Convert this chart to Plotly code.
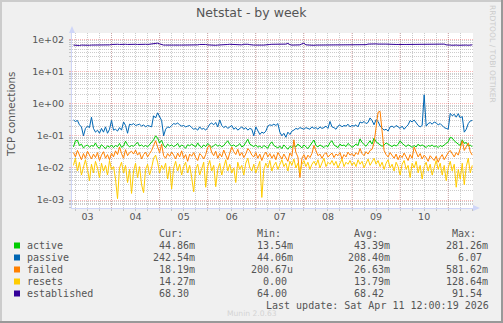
import pandas as pd
import plotly.graph_objects as go

# ---- data: TCP connection rates, hourly samples ----
start = "2026-04-03 05:00"
n_points = 200
times = pd.date_range(start, periods=n_points, freq="h")

active = [
    0.045, 0.070, 0.072, 0.050, 0.055, 0.042, 0.048, 0.052, 0.044, 0.050,
    0.047, 0.060, 0.045, 0.041, 0.053, 0.046, 0.040, 0.049, 0.044, 0.052,
    0.043, 0.050, 0.046, 0.058, 0.044, 0.048, 0.068, 0.052, 0.045, 0.050,
    0.047, 0.055, 0.062, 0.048, 0.052, 0.046, 0.050, 0.045, 0.054, 0.060,
    0.075, 0.100, 0.085, 0.060, 0.072, 0.050, 0.043, 0.055, 0.048, 0.052,
    0.046, 0.050, 0.058, 0.044, 0.052, 0.047, 0.041, 0.053, 0.049, 0.055,
    0.050, 0.045, 0.060, 0.048, 0.043, 0.052, 0.046, 0.058, 0.050, 0.044,
    0.049, 0.055, 0.047, 0.052, 0.045, 0.050, 0.060, 0.070, 0.054, 0.048,
    0.052, 0.046, 0.050, 0.057, 0.045, 0.049, 0.062, 0.078, 0.055, 0.050,
    0.046, 0.052, 0.044, 0.048, 0.042, 0.050, 0.046, 0.041, 0.055, 0.065,
    0.050, 0.046, 0.042, 0.048, 0.040, 0.052, 0.044, 0.038, 0.047, 0.043,
    0.050, 0.045, 0.055, 0.048, 0.042, 0.052, 0.046, 0.040, 0.049, 0.062,
    0.074, 0.050, 0.045, 0.052, 0.047, 0.043, 0.050, 0.046, 0.062, 0.070,
    0.052, 0.047, 0.043, 0.055, 0.049, 0.052, 0.046, 0.058, 0.050, 0.044,
    0.048, 0.056, 0.050, 0.080, 0.062, 0.052, 0.047, 0.058, 0.070, 0.055,
    0.085, 0.065, 0.058, 0.050, 0.047, 0.052, 0.060, 0.055, 0.050, 0.046,
    0.052, 0.048, 0.054, 0.070, 0.058, 0.050, 0.046, 0.053, 0.048, 0.044,
    0.050, 0.045, 0.055, 0.048, 0.052, 0.046, 0.043, 0.050, 0.047, 0.052,
    0.045, 0.049, 0.043, 0.050, 0.046, 0.052, 0.058, 0.065, 0.090, 0.085,
    0.070, 0.060, 0.055, 0.050, 0.075, 0.058, 0.062, 0.048, 0.052, 0.045,
]

passive = [
    0.31, 0.28, 0.30, 0.22, 0.19, 0.10, 0.17, 0.20, 0.18, 0.38,
    0.17, 0.13, 0.15, 0.12, 0.17, 0.13, 0.19, 0.12, 0.16, 0.30,
    0.15, 0.16, 0.14, 0.18, 0.15, 0.27, 0.21, 0.12, 0.23, 0.22,
    0.24, 0.21, 0.22, 0.23, 0.20, 0.22, 0.19, 0.21, 0.20, 0.19,
    0.42, 0.36, 0.52, 0.40, 0.30, 0.10, 0.16, 0.19, 0.18, 0.21,
    0.24, 0.23, 0.25, 0.22, 0.20, 0.21, 0.19, 0.20, 0.21, 0.18,
    0.16, 0.17, 0.15, 0.19, 0.16, 0.17, 0.15, 0.18, 0.23, 0.25,
    0.22, 0.26, 0.19, 0.31, 0.21, 0.18, 0.20, 0.17, 0.19, 0.21,
    0.16, 0.18, 0.15, 0.17, 0.19, 0.16, 0.18, 0.15, 0.17, 0.16,
    0.10, 0.19, 0.14, 0.11, 0.13, 0.12, 0.14, 0.20, 0.22, 0.21,
    0.23, 0.21, 0.24, 0.13, 0.10, 0.12, 0.09, 0.13, 0.11, 0.14,
    0.15, 0.17, 0.16, 0.18, 0.17, 0.16, 0.18, 0.17, 0.16, 0.19,
    0.17, 0.18, 0.16, 0.19, 0.17, 0.18, 0.20, 0.17, 0.28, 0.19,
    0.18, 0.16, 0.20, 0.22, 0.19, 0.21, 0.20, 0.23, 0.19, 0.21,
    0.20, 0.22, 0.19, 0.27, 0.25, 0.28, 0.24, 0.26, 0.36, 0.30,
    0.22, 0.32, 0.28, 0.20, 0.17, 0.15, 0.16, 0.14, 0.19, 0.20,
    0.18, 0.21, 0.19, 0.17, 0.20, 0.16, 0.19, 0.22, 0.30, 0.27,
    0.31, 0.25, 0.21, 0.19, 0.21, 1.90, 0.20, 0.24, 0.26, 0.23,
    0.27, 0.25, 0.22, 0.24, 0.21, 0.18, 0.17, 0.16, 0.50, 0.42,
    0.47, 0.38, 0.49, 0.36, 0.40, 0.13, 0.16, 0.24, 0.29, 0.30,
]

failed = [
    0.030, 0.022, 0.035, 0.025, 0.018, 0.028, 0.020, 0.033, 0.024, 0.019,
    0.027, 0.021, 0.030, 0.017, 0.025, 0.032, 0.020, 0.026, 0.018, 0.029,
    0.022, 0.034, 0.026, 0.045, 0.028, 0.020, 0.037, 0.024, 0.030, 0.033,
    0.027, 0.036, 0.025, 0.030, 0.019, 0.026, 0.031, 0.022, 0.028, 0.035,
    0.050, 0.070, 0.045, 0.030, 0.055, 0.024, 0.020, 0.028, 0.023, 0.031,
    0.025, 0.019, 0.029, 0.022, 0.034, 0.020, 0.026, 0.016, 0.027, 0.023,
    0.030, 0.021, 0.017, 0.028, 0.024, 0.019, 0.026, 0.045, 0.050, 0.030,
    0.024, 0.033, 0.020, 0.028, 0.022, 0.036, 0.025, 0.018, 0.029, 0.045,
    0.032, 0.026, 0.038, 0.024, 0.030, 0.021, 0.027, 0.040, 0.034, 0.025,
    0.022, 0.030, 0.020, 0.027, 0.017, 0.025, 0.031, 0.022, 0.028, 0.020,
    0.026, 0.018, 0.030, 0.024, 0.019, 0.027, 0.021, 0.016, 0.029, 0.023,
    0.075, 0.030, 0.022, 0.005, 0.020, 0.026, 0.018, 0.025, 0.021, 0.028,
    0.050, 0.032, 0.024, 0.027, 0.020, 0.026, 0.030, 0.022, 0.025, 0.029,
    0.021, 0.027, 0.024, 0.030, 0.019, 0.026, 0.022, 0.031, 0.025, 0.028,
    0.023, 0.030, 0.026, 0.040, 0.028, 0.024, 0.032, 0.027, 0.035, 0.038,
    0.060, 0.180, 0.540, 0.580, 0.150, 0.035, 0.026, 0.022, 0.030, 0.024,
    0.020, 0.027, 0.018, 0.025, 0.021, 0.029, 0.023, 0.017, 0.026, 0.020,
    0.045, 0.030, 0.022, 0.028, 0.019, 0.025, 0.021, 0.016, 0.024, 0.020,
    0.017, 0.023, 0.015, 0.021, 0.026, 0.018, 0.024, 0.030, 0.035, 0.028,
    0.022, 0.030, 0.025, 0.040, 0.070, 0.035, 0.045, 0.060, 0.032, 0.025,
]

resets = [
    0.012, 0.020, 0.008, 0.015, 0.006, 0.011, 0.018, 0.009, 0.004, 0.013,
    0.007, 0.016, 0.010, 0.005, 0.014, 0.008, 0.012, 0.006, 0.017, 0.009,
    0.011, 0.0045, 0.0011, 0.010, 0.015, 0.007, 0.012, 0.0035, 0.009, 0.0016,
    0.008, 0.014, 0.005, 0.011, 0.0030, 0.0017, 0.009, 0.013, 0.006, 0.010,
    0.020, 0.025, 0.015, 0.007, 0.012, 0.009, 0.014, 0.0045, 0.011, 0.0022,
    0.010, 0.016, 0.008, 0.013, 0.006, 0.011, 0.015, 0.007, 0.012, 0.005,
    0.0018, 0.009, 0.013, 0.006, 0.010, 0.015, 0.0025, 0.011, 0.017, 0.008,
    0.012, 0.0026, 0.009, 0.014, 0.006, 0.011, 0.018, 0.008, 0.013, 0.007,
    0.010, 0.0035, 0.015, 0.009, 0.012, 0.006, 0.014, 0.020, 0.010, 0.008,
    0.013, 0.007, 0.011, 0.016, 0.0012, 0.009, 0.014, 0.010, 0.017, 0.008,
    0.012, 0.015, 0.009, 0.013, 0.018, 0.011, 0.014, 0.008, 0.016, 0.012,
    0.019, 0.010, 0.014, 0.007, 0.013, 0.017, 0.011, 0.015, 0.009, 0.013,
    0.016, 0.012, 0.018, 0.010, 0.014, 0.020, 0.011, 0.015, 0.013, 0.017,
    0.012, 0.016, 0.010, 0.014, 0.019, 0.011, 0.015, 0.013, 0.017, 0.012,
    0.015, 0.011, 0.018, 0.013, 0.016, 0.010, 0.014, 0.019, 0.012, 0.016,
    0.020, 0.013, 0.017, 0.011, 0.015, 0.009, 0.014, 0.018, 0.010, 0.013,
    0.008, 0.015, 0.011, 0.006, 0.013, 0.017, 0.009, 0.012, 0.005, 0.014,
    0.010, 0.016, 0.007, 0.012, 0.0045, 0.011, 0.015, 0.008, 0.013, 0.006,
    0.011, 0.017, 0.009, 0.014, 0.006, 0.012, 0.0040, 0.010, 0.016, 0.008,
    0.013, 0.0025, 0.009, 0.0045, 0.014, 0.0030, 0.011, 0.020, 0.007, 0.012,
]

established = [
    67, 66, 67, 65, 67, 66, 67, 67, 66, 67,
    67, 66, 67, 67, 67, 66, 67, 67, 68, 70,
    71, 71, 71, 70, 71, 71, 71, 70, 71, 71,
    71, 71, 70, 71, 71, 71, 71, 70, 71, 72,
    74, 78, 77, 73, 69, 67, 67, 66, 67, 67,
    67, 66, 67, 67, 67, 67, 66, 67, 67, 67,
    67, 67, 68, 70, 71, 71, 70, 68, 67, 67,
    67, 66, 67, 67, 67, 67, 67, 70, 71, 70,
    69, 68, 68, 68, 68, 71, 72, 71, 69, 67,
    67, 67, 66, 67, 67, 67, 67, 67, 70, 71,
    71, 70, 71, 71, 70, 71, 72, 76, 69, 67,
    67, 67, 67, 68, 73, 77, 68, 67, 67, 67,
    66, 67, 67, 67, 67, 66, 67, 67, 67, 67,
    67, 67, 66, 67, 67, 67, 67, 67, 66, 67,
    68, 68, 68, 69, 68, 68, 69, 72, 73, 72,
    73, 73, 72, 73, 73, 72, 72, 71, 70, 70,
    70, 70, 70, 71, 70, 70, 70, 70, 71, 70,
    70, 70, 70, 70, 71, 70, 70, 70, 70, 70,
    70, 70, 70, 70, 69, 72, 68, 66, 67, 66,
    68, 67, 66, 67, 67, 66, 67, 66, 66, 68,
]

series_names = ["active", "passive", "failed", "resets", "established"]
series_colors = ["#00CC00", "#0066B3", "#FF8000", "#FFCC00", "#330099"]
series_values = [active, passive, failed, resets, established]

# legend statistics
stat_headers = ["Cur:", "Min:", "Avg:", "Max:"]
cur_vals = ["44.86m", "242.54m", "18.19m", "14.27m", "68.30"]
min_vals = ["13.54m", "44.06m", "200.67u", "0.00", "64.00"]
avg_vals = ["43.39m", "208.40m", "26.63m", "13.79m", "68.42"]
max_vals = ["281.26m", "6.07", "581.62m", "128.64m", "91.54"]
stat_columns = [cur_vals, min_vals, avg_vals, max_vals]

day_labels = ["03", "04", "05", "06", "07", "08", "09", "10"]
day_dates = pd.date_range("2026-04-03", periods=len(day_labels), freq="D")
midnights = pd.date_range("2026-04-04", "2026-04-11", freq="D")

y_major = [1e-3, 1e-2, 1e-1, 1e0, 1e1, 1e2]
y_major_text = ["1e-03", "1e-02", "1e-01", "1e+00", "1e+01", "1e+02"]
y_minor = [m * 10.0 ** k for k in range(-4, 3) for m in range(2, 10)]

# ---- canvas geometry (pixels) ----
W, H = 503, 323
ML, MR, MT, MB = 72, 30, 33, 115
PW, PH = W - ML - MR, H - MT - MB


def px(x):
    return (x - ML) / PW


def py(y):
    return 1 - (y - MT) / PH


FONT = "DejaVu Sans"
MONO = "DejaVu Sans Mono"
TXT = "#555555"
MINOR_GRID = "rgba(143,143,143,0.45)"
MAJOR_GRID = "rgba(232,0,0,0.28)"
AXIS = "#CFD6F8"

fig = go.Figure()
for name, color, vals in zip(series_names, series_colors, series_values):
    fig.add_trace(go.Scatter(
        x=times, y=vals, mode="lines", name=name,
        line=dict(color=color, width=1), hoverinfo="skip",
    ))

shapes = []
# day boundary lines
for d in midnights:
    shapes.append(dict(type="line", xref="x", yref="paper", x0=d, x1=d, y0=0, y1=1,
                       line=dict(color=MAJOR_GRID, width=1, dash="1px,1px"),
                       layer="between"))
# axis arrows
shapes.append(dict(type="path", xref="paper", yref="paper",
                   path=f"M {px(69)} {py(33)} L {px(75)} {py(33)} L {px(72)} {py(26)} Z",
                   fillcolor=AXIS, line=dict(width=0)))
shapes.append(dict(type="path", xref="paper", yref="paper",
                   path=f"M {px(473)} {py(205)} L {px(473)} {py(211)} L {px(480)} {py(208)} Z",
                   fillcolor=AXIS, line=dict(width=0)))
# frame shading
shapes += [
    dict(type="rect", xref="paper", yref="paper", x0=px(0), x1=px(2), y0=py(H), y1=py(0),
         fillcolor="#CCCCCC", line=dict(width=0)),
    dict(type="rect", xref="paper", yref="paper", x0=px(0), x1=px(W), y0=py(2), y1=py(0),
         fillcolor="#CCCCCC", line=dict(width=0)),
    dict(type="rect", xref="paper", yref="paper", x0=px(W - 2), x1=px(W), y0=py(H), y1=py(0),
         fillcolor="#999999", line=dict(width=0)),
    dict(type="rect", xref="paper", yref="paper", x0=px(0), x1=px(W), y0=py(H), y1=py(H - 2),
         fillcolor="#999999", line=dict(width=0)),
]

annotations = []


def note(text, x, y, size=10, family=MONO, color=TXT, xanchor="left", angle=0):
    annotations.append(dict(text=text, xref="paper", yref="paper", x=px(x), y=py(y),
                            xanchor=xanchor, yanchor="middle", showarrow=False,
                            textangle=angle, borderpad=0, borderwidth=0,
                            font=dict(family=family, size=size, color=color)))


note("Netstat - by week", 251.5, 13, size=12.5, family=FONT, xanchor="center")
note("TCP connections", 11, 115, size=10.3, family=FONT, xanchor="center", angle=-90)
note("RRDTOOL / TOBI OETIKER", 493, 54, size=7.6, family=FONT, color="#CCCCCC",
     xanchor="center", angle=90)

# legend block
col_right = [195, 293, 390, 488]
row_y0, row_step = 245.5, 12
for hdr, xr in zip(stat_headers, col_right):
    note(hdr, xr - 12, row_y0 - 12, xanchor="right")
for i, (name, color) in enumerate(zip(series_names, series_colors)):
    yc = row_y0 + i * row_step
    shapes.append(dict(type="rect", xref="paper", yref="paper",
                       x0=px(14), x1=px(20), y0=py(yc + 3), y1=py(yc - 3),
                       fillcolor=color, line=dict(width=0)))
    note(name, 27, yc)
    for col, xr in zip(stat_columns, col_right):
        v = col[i]
        shift = 0 if v[-1].isalpha() else 6
        note(v, xr - shift, yc, xanchor="right")
note("Last update: Sat Apr 11 12:00:19 2026", 489, row_y0 + 5 * row_step, xanchor="right")
note("Munin 2.0.63", 252, 313, size=7.6, family=FONT, color="#D4D4D4", xanchor="center")

fig.update_layout(
    width=W, height=H, autosize=False,
    margin=dict(l=ML, r=MR, t=MT, b=MB, pad=0),
    paper_bgcolor="#F0F0F0", plot_bgcolor="#FFFFFF",
    showlegend=False, shapes=shapes, annotations=annotations,
    font=dict(family=FONT, size=9.5, color=TXT),
)

fig.update_xaxes(
    type="date", range=["2026-04-03 04:17", "2026-04-11 12:22"],
    tickmode="array", tickvals=day_dates + pd.Timedelta(hours=12), ticktext=day_labels,
    ticks="", showgrid=False, zeroline=False,
    showline=True, linecolor=AXIS, linewidth=1,
    tickfont=dict(family=FONT, size=9.5, color=TXT),
    minor=dict(tickmode="linear", tick0="2026-04-03", dtick=6 * 3600 * 1000,
               showgrid=True, gridcolor=MINOR_GRID, griddash="1px,1px", gridwidth=1,
               ticks="outside", ticklen=2, tickcolor=MINOR_GRID),
)

fig.update_yaxes(
    type="log", range=[-3.249, 2.2025],
    tickmode="array", tickvals=y_major, ticktext=y_major_text,
    showgrid=True, gridcolor=MAJOR_GRID, griddash="1px,1px", gridwidth=1,
    ticks="outside", ticklen=2, tickcolor=MAJOR_GRID, ticklabelstandoff=3,
    showline=True, linecolor=AXIS, linewidth=1, zeroline=False,
    tickfont=dict(family=FONT, size=9.5, color=TXT),
    minor=dict(tickmode="array", tickvals=y_minor,
               showgrid=True, gridcolor=MINOR_GRID, griddash="1px,1px", gridwidth=1,
               ticks="outside", ticklen=2, tickcolor=MINOR_GRID),
)

fig.write_html("out.html", config={"displayModeBar": False})
